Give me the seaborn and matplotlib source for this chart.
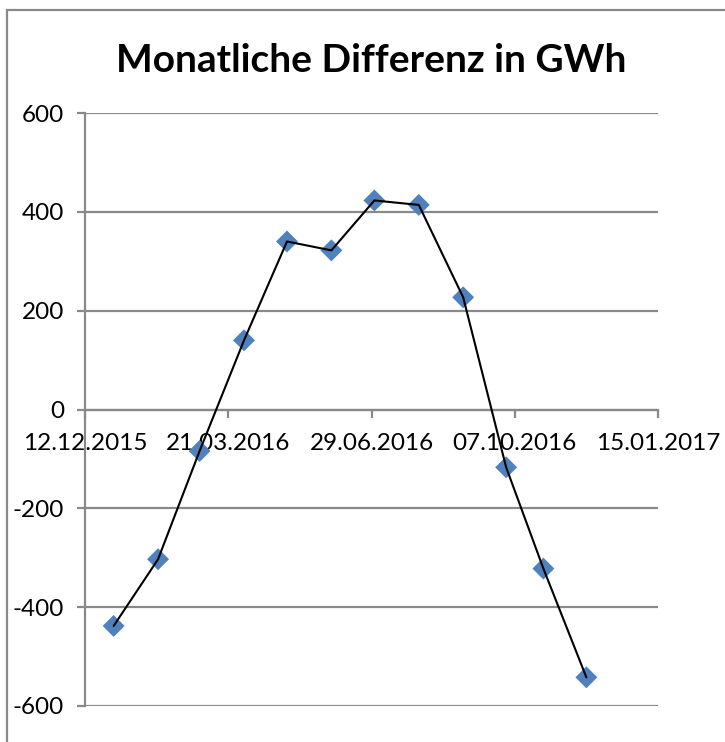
import matplotlib
matplotlib.use("Agg")
import matplotlib.pyplot as plt
import matplotlib.dates as mdates
from matplotlib.patches import Rectangle
import seaborn as sns
import pandas as pd
import numpy as np

# ---- data ----
dates = ["2016-01-01", "2016-02-01", "2016-03-01", "2016-04-01", "2016-05-01", "2016-06-01",
         "2016-07-01", "2016-08-01", "2016-09-01", "2016-10-01", "2016-10-27", "2016-11-26"]
values = [-438, -303, -84, 140, 340, 322, 423, 414, 227, -117, -322, -542]
x_ticks = ["2015-12-12", "2016-03-21", "2016-06-29", "2016-10-07", "2017-01-15"]
y_ticks = [-600, -400, -200, 0, 200, 400, 600]
title = "Monatliche Differenz in GWh"

df = pd.DataFrame({"Datum": pd.to_datetime(dates), "Differenz": values})

sns.set_theme(style="white")
plt.rcParams["font.family"] = ["Lato", "DejaVu Sans"]
plt.rcParams["axes.unicode_minus"] = False

W, H = 725, 742
fig = plt.figure(figsize=(W / 100, H / 100), dpi=100)
ax = fig.add_axes([85 / W, 1 - 706 / H, (658 - 85) / W, (706 - 113) / H])

grid_c = "#898989"
sns.scatterplot(data=df, x="Datum", y="Differenz", marker="D", s=125, color="#4F81BD",
                edgecolor="none", ax=ax, zorder=3, legend=False)
sns.lineplot(data=df, x="Datum", y="Differenz", color="black", linewidth=1.5, ax=ax,
             zorder=4, legend=False, estimator=None, sort=False)

xt = pd.to_datetime(x_ticks)
ax.set_xlim(xt[0], xt[-1])
ax.set_xticks(xt)
ax.xaxis.set_major_formatter(mdates.DateFormatter("%d.%m.%Y"))
ax.set_ylim(y_ticks[0], y_ticks[-1])
ax.set_yticks(y_ticks)

for y in y_ticks:
    ax.axhline(y, color=grid_c, lw=1.6, zorder=1)

for s in ["top", "right"]:
    ax.spines[s].set_visible(False)
ax.spines["left"].set_color(grid_c)
ax.spines["left"].set_linewidth(1.6)
ax.spines["bottom"].set_position(("data", 0))
ax.spines["bottom"].set_color(grid_c)
ax.spines["bottom"].set_linewidth(1.6)

ax.tick_params(axis="x", direction="out", length=6, width=1.6, color=grid_c,
               labelsize=17.5, pad=11, labelcolor="black", bottom=True)
ax.tick_params(axis="y", direction="out", length=6, width=1.6, color=grid_c,
               labelsize=17.5, pad=9, labelcolor="black", left=True)
ax.set_xlabel("")
ax.set_ylabel("")
ax.set_facecolor("white")

fig.text((85 + 658) / 2 / W, 1 - 61 / H, title, ha="center", va="center",
         fontsize=28, fontweight="bold", color="black")

rect = Rectangle((7 / W, -0.05), 1.05, 1 - 10 / H + 0.05, transform=fig.transFigure,
                 fill=False, edgecolor=grid_c, lw=1.6, clip_on=False)
fig.add_artist(rect)

fig.savefig("out.png", dpi=100, facecolor="white")
